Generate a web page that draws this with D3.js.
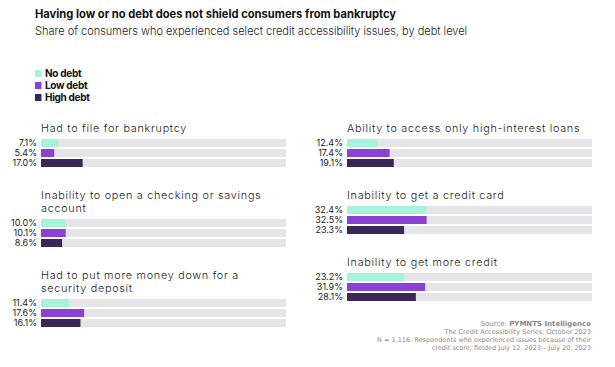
<!DOCTYPE html>
<html><head><meta charset="utf-8">
<script src="https://cdn.jsdelivr.net/npm/d3@7"></script>
<style>html,body{margin:0;padding:0;background:#fff;}svg{display:block;}</style>
</head><body>
<svg id="chart" width="615" height="367"></svg>
<script>
const title = "Having low or no debt does not shield consumers from bankruptcy";
const subtitle = "Share of consumers who experienced select credit accessibility issues, by debt level";
const series = ["No debt", "Low debt", "High debt"];
const colors = ["#a4f3da", "#8a42d5", "#3a2757"];
const leftCategories = ["Had to file for bankruptcy", "Inability to open a checking or savings account", "Had to put more money down for a security deposit"];
const rightCategories = ["Ability to access only high-interest loans", "Inability to get a credit card", "Inability to get more credit"];
const leftNoDebt = [7.1, 10.0, 11.4];
const leftLowDebt = [5.4, 10.1, 17.6];
const leftHighDebt = [17.0, 8.6, 16.1];
const rightNoDebt = [12.4, 32.4, 23.2];
const rightLowDebt = [17.4, 32.5, 31.9];
const rightHighDebt = [19.1, 23.3, 28.1];
const sourceLines = ["The Credit Accessibility Series, October 2023", "N = 1,116: Respondents who experienced issues because of their", "credit score, fielded July 12, 2023 \u2013 July 20, 2023"];

const svg = d3.select("#chart");
const fam = "Inter, 'Noto Sans', sans-serif";

function fit(sel, w) {
  let fs = parseFloat(sel.attr("font-size"));
  for (let i = 0; i < 4; i++) {
    const cur = sel.node().getComputedTextLength();
    fs = fs * w / cur;
    sel.attr("font-size", fs);
  }
  return fs;
}

// title
const t = svg.append("text").attr("x", 35).attr("y", 18).attr("font-family", fam)
  .attr("font-weight", 700).attr("font-size", 13).attr("fill", "#111").text(title);
fit(t, 361);
const st = svg.append("text").attr("x", 35).attr("y", 35).attr("font-family", fam)
  .attr("font-weight", 300).attr("font-size", 13).attr("fill", "#222").text(subtitle);
fit(st, 432);

// legend
const leg = svg.append("g");
series.forEach((s, i) => {
  const y = 70 + i * 12;
  leg.append("rect").attr("x", 35).attr("y", y).attr("width", 6.5).attr("height", 7).attr("fill", colors[i]);
  leg.append("text").attr("x", 45).attr("y", y + 7).attr("font-family", fam).attr("font-weight", 700)
    .attr("font-size", 10).attr("letter-spacing", -0.3).attr("fill", "#111").text(s);
});

const x = d3.scaleLinear().domain([0, 100]).range([0, 245]);
const yb = d3.scaleBand().domain(series).range([0, 28]).paddingInner(0.2);
const fmt = d3.format(".1f");

// panel title font: fixed size, letter spacing fitted to reference width
const panelFs = 10.8;
const probeStr = "Had to file for bankruptcy";
const probe = svg.append("text").attr("font-family", fam).attr("font-weight", 300).attr("font-size", panelFs).text(probeStr);
const panelLs = (146 - probe.node().getComputedTextLength()) / probeStr.length;
probe.remove();

function wrapLines(text, width) {
  const words = text.split(" ");
  const lines = [];
  let cur = [];
  const m = svg.append("text").attr("font-family", fam).attr("font-weight", 300).attr("font-size", panelFs).attr("letter-spacing", panelLs);
  words.forEach(w => {
    const trial = cur.concat([w]).join(" ");
    m.text(trial);
    if (m.node().getComputedTextLength() > width && cur.length) { lines.push(cur.join(" ")); cur = [w]; }
    else cur.push(w);
  });
  if (cur.length) lines.push(cur.join(" "));
  m.remove();
  return lines;
}

function column(x0, cats, vals) {
  let base = 132;
  cats.forEach((c, ci) => {
    const g = svg.append("g");
    const lines = wrapLines(c, 240);
    const tt = g.append("text").attr("x", x0).attr("y", base).attr("font-family", fam)
      .attr("font-weight", 300).attr("font-size", panelFs).attr("letter-spacing", panelLs).attr("fill", "#1a1a1a");
    lines.forEach((l, li) => {
      tt.append("tspan").attr("x", x0).attr("y", base + li * 13).text(l);
    });
    const top = base + (lines.length - 1) * 13 + 7;
    const bg = g.append("g").attr("transform", `translate(${x0},${top})`);
    series.forEach((s, si) => {
      const v = vals[si][ci];
      bg.append("rect").attr("x", 0).attr("y", yb(s)).attr("width", x(100)).attr("height", yb.bandwidth()).attr("fill", "#e5e5e8");
      bg.append("rect").attr("x", 0).attr("y", yb(s)).attr("width", x(v)).attr("height", yb.bandwidth()).attr("fill", colors[si]);
      bg.append("text").attr("x", -4).attr("y", yb(s) + yb.bandwidth() / 2).attr("dy", "0.36em")
        .attr("text-anchor", "end").attr("font-family", fam).attr("font-size", 9).attr("letter-spacing", 0)
        .attr("fill", "#1a1a1a").text(fmt(v) + "%");
    });
    base = top + 28 + 32;
  });
}
column(41, leftCategories, [leftNoDebt, leftLowDebt, leftHighDebt]);
column(347, rightCategories, [rightNoDebt, rightLowDebt, rightHighDebt]);

// source
const src = svg.append("g").attr("font-family", "'DejaVu Sans', sans-serif").attr("fill", "#8a8a8a").attr("text-anchor", "end");
const s0 = src.append("text").attr("x", 591).attr("y", 326).attr("font-size", 7);
s0.append("tspan").text("Source: ");
s0.append("tspan").attr("font-weight", 700).text("PYMNTS Intelligence");
sourceLines.forEach((l, i) => {
  src.append("text").attr("x", 591).attr("y", 334 + i * 8).attr("font-size", 6.5).text(l);
});
</script>
</body></html>
